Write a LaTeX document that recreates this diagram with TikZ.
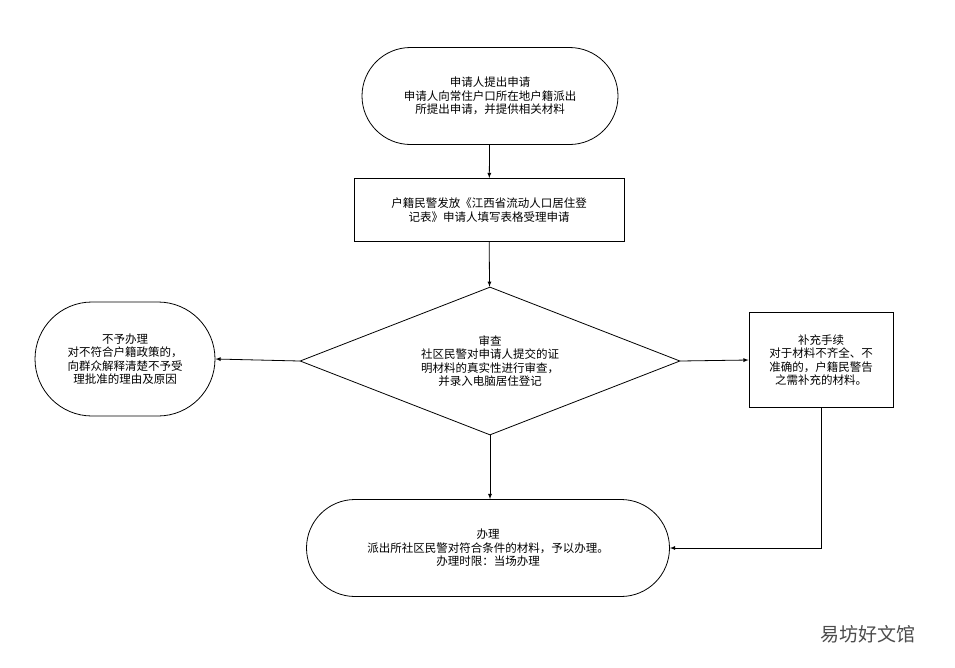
\documentclass[tikz,border=0pt]{standalone}
\usepackage{fontspec}
\setmainfont{Noto Sans CJK SC}
\usetikzlibrary{shapes.geometric,shapes.misc}
\tikzstyle{stadium}=[rounded rectangle,draw=black,thick,align=center,inner sep=0pt]
\tikzstyle{box}=[rectangle,draw=black,thick,align=center,inner sep=0pt]
\tikzstyle{check}=[diamond,draw=black,thick,inner sep=0pt]
\tikzstyle{flow}=[thick,-latex]
\begin{document}
\begin{tikzpicture}[x=1pt,y=-1pt,font=\fontsize{11.5}{13.5}\selectfont]
\useasboundingbox (0,0) rectangle (955,667);

% Knoten
\node (apply) at (490,96) [stadium,minimum width=256,minimum height=97] {申请人提出申请\\申请人向常住户口所在地户籍派出\\所提出申请，并提供相关材料};
\node (accept) at (489,210) [box,minimum width=270,minimum height=63] {户籍民警发放《江西省流动人口居住登\\记表》申请人填写表格受理申请};
\node (review) at (490,361) [check,minimum width=380,minimum height=148] {};
\node (reviewText) at (review.center) [align=center] {审查\\社区民警对申请人提交的证\\明材料的真实性进行审查，\\并录入电脑居住登记};
\node (refuse) at (125,359) [stadium,minimum width=180,minimum height=114] {不予办理\\对不符合户籍政策的，\\向群众解释清楚不予受\\理批准的理由及原因};
\node (supply) at (821,360) [box,minimum width=144,minimum height=95] {补充手续\\对于材料不齐全、不\\准确的，户籍民警告\\之需补充的材料。};
\node (handle) at (488,548) [stadium,minimum width=363,minimum height=97] {办理\\派出所社区民警对符合条件的材料，予以办理。\\办理时限：当场办理};
\coordinate (turn) at (supply.south |- handle.east);

% Kanten
\draw[flow] (apply) -- (accept);
\draw[flow] (accept) -- (review);
\draw[flow] (review.south) -- (handle.north -| review.south);
\draw[flow] (review.west) -- (refuse.east);
\draw[flow] (review.east) -- (supply.west);
\draw[flow] (supply.south) -- (turn) -- (handle.east);

\node (mark) at (868,634) [text=black!70,font=\fontsize{19}{21}\selectfont] {易坊好文馆};
\end{tikzpicture}
\end{document}
